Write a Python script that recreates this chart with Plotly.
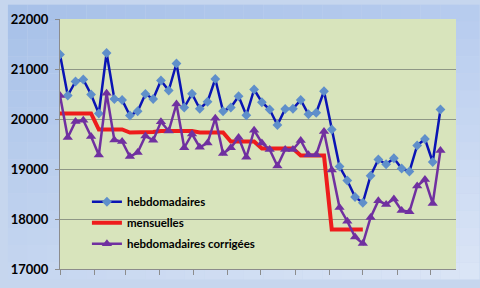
import plotly.graph_objects as go
import pandas as pd

# ---- data (weekly points) ----
weeks = pd.date_range("2009-01-01", periods=50, freq="7D")

hebdomadaires = [21290, 20470, 20750, 20790, 20490, 20110, 21320, 20400, 20380, 20070,
                 20155, 20500, 20400, 20770, 20570, 21110, 20230, 20505, 20205, 20345,
                 20800, 20155, 20230, 20455, 20075, 20590, 20335, 20190, 19880, 20200,
                 20205, 20380, 20095, 20125, 20555, 19790, 19050, 18770, 18440, 18325,
                 18865, 19190, 19095, 19215, 19010, 18950, 19470, 19600, 19140, 20190]

mensuelles = [20110, 20110, 20110, 20110, 20110, 19790, 19790, 19790, 19790, 19730,
              19730, 19730, 19740, 19760, 19760, 19760, 19760, 19760, 19730, 19730,
              19730, 19730, 19550, 19550, 19550, 19550, 19410, 19410, 19410, 19410,
              19410, 19270, 19270, 19270, 19270, 17790, 17790, 17790, 17790, 17790,
              None, None, None, None, None, None, None, None, None, None]

corrigees = [20470, 19630, 19950, 19975, 19650, 19280, 20515, 19580, 19550, 19250,
             19330, 19660, 19575, 19945, 19760, 20300, 19425, 19700, 19435, 19520,
             20015, 19310, 19425, 19630, 19235, 19775, 19520, 19390, 19060, 19390,
             19390, 19570, 19285, 19285, 19750, 18980, 18230, 17955, 17640, 17510,
             18030, 18365, 18292, 18400, 18170, 18145, 18660, 18790, 18311, 19372]

y_ticks = [17000, 18000, 19000, 20000, 21000, 22000]

# ---- figure ----
fig = go.Figure()
fig.add_trace(go.Scatter(x=weeks, y=hebdomadaires, name="hebdomadaires", mode="lines+markers",
                         legendgroup="a",
                         line=dict(color="#0a14b4", width=2.5),
                         marker=dict(symbol="diamond", size=7.5, color="#5f8fca")))
fig.add_trace(go.Scatter(x=weeks, y=mensuelles, name="mensuelles", mode="lines",
                         legendgroup="b",
                         line=dict(color="#ee1c1c", width=4)))
fig.add_trace(go.Scatter(x=weeks, y=corrigees, name="hebdomadaires corrigées", mode="lines+markers",
                         legendgroup="c",
                         line=dict(color="#7030a0", width=2.5),
                         marker=dict(symbol="triangle-up", size=9, color="#7030a0")))

# gradient background (paper) made of small rectangles
L, R, T, B = 53, 456, 15, 277
W, H = 480, 288
pw, ph = R - L, B - T
TL, TR, BL, BR = (166, 192, 232), (182, 203, 238), (198, 214, 240), (220, 230, 246)
shapes = []
nx, ny = 24, 16
for i in range(nx):
    for j in range(ny):
        u = (i + 0.5) / nx
        v = (j + 0.5) / ny
        c = [round(TL[k] * (1 - u) * (1 - v) + TR[k] * u * (1 - v) + BL[k] * (1 - u) * v + BR[k] * u * v) for k in range(3)]
        px0, px1 = i * W / nx, (i + 1) * W / nx
        py0, py1 = j * H / ny, (j + 1) * H / ny
        shapes.append(dict(type="rect", xref="paper", yref="paper", layer="below",
                           x0=(px0 - L) / pw, x1=(px1 - L) / pw,
                           y0=(B - py1) / ph, y1=(B - py0) / ph,
                           fillcolor="rgb(%d,%d,%d)" % tuple(c), line=dict(width=0)))
shapes.append(dict(type="rect", xref="paper", yref="paper", layer="below",
                   x0=0, x1=1, y0=0, y1=1, fillcolor="#d8e4bc", line=dict(width=0)))

fig.update_layout(
    width=W, height=H,
    margin=dict(l=L, r=W - R, t=T, b=H - B),
    paper_bgcolor="#c6d6ee",
    plot_bgcolor="rgba(0,0,0,0)",
    shapes=shapes,
    showlegend=True,
    legend=dict(x=0.068, y=0.327, xanchor="left", yanchor="top",
                bgcolor="rgba(0,0,0,0)", traceorder="grouped",
                font=dict(family="Lato", size=11.5, color="#000000", weight="bold"),
                tracegroupgap=2),
    font=dict(family="Lato", size=12, color="#000000"),
)
fig.update_xaxes(range=["2009-01-01", "2009-12-24"], tick0="2009-01-01", dtick="M1",
                 showticklabels=False, ticks="outside", ticklen=5, tickcolor="#8c8c8c",
                 showgrid=False, showline=True, linecolor="#8c8c8c", linewidth=1, zeroline=False)
fig.update_yaxes(range=[17000, 22000], tickvals=y_ticks, ticktext=[str(v) for v in y_ticks],
                 ticks="outside", ticklen=4, tickcolor="#8c8c8c", ticklabelstandoff=4,
                 tickfont=dict(family="Lato", size=13, color="#000000", weight="bold"),
                 showgrid=True, gridcolor="#8f9786", gridwidth=1,
                 showline=True, linecolor="#8c8c8c", linewidth=1, zeroline=False)

fig.write_html("out.html")
